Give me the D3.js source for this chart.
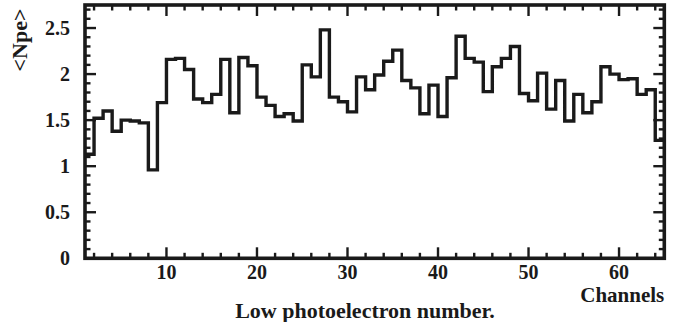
<!DOCTYPE html>
<html>
  <head>
    <meta charset="UTF-8" />
    <style>
      body { margin: 0; background: #fff; }
      text { font-family: "Liberation Serif", "Times New Roman", serif; font-weight: bold; fill: #1a1a1a; }
    </style>
  </head>
  <body>
    <svg id="chart"></svg>
    <script src="https://d3js.org/d3.v7.min.js"></script>
    <script>
      let width = 674,
        height = 322;

      // <Npe> per channel, channels 1..64
      const npe = [
        1.13, 1.52, 1.60, 1.38, 1.50, 1.49, 1.47, 0.96, 1.69, 2.16,
        2.17, 2.05, 1.73, 1.69, 1.78, 2.16, 1.58, 2.18, 2.09, 1.75,
        1.66, 1.54, 1.57, 1.49, 2.10, 1.97, 2.48, 1.75, 1.70, 1.59,
        1.97, 1.83, 1.99, 2.14, 2.26, 1.93, 1.85, 1.57, 1.88, 1.54,
        1.96, 2.41, 2.17, 2.13, 1.81, 2.08, 2.17, 2.30, 1.79, 1.71,
        2.01, 1.62, 1.93, 1.49, 1.78, 1.58, 1.70, 2.08, 2.00, 1.94,
        1.95, 1.78, 1.83, 1.28
      ];
      const xMajor = [10, 20, 30, 40, 50, 60];
      const xMinor = [2, 4, 6, 8, 12, 14, 16, 18, 22, 24, 26, 28, 32, 34, 36, 38,
        42, 44, 46, 48, 52, 54, 56, 58, 62, 64];
      const yMajor = [0, 0.5, 1, 1.5, 2, 2.5];
      const yMinor = [0.1, 0.2, 0.3, 0.4, 0.6, 0.7, 0.8, 0.9, 1.1, 1.2, 1.3, 1.4,
        1.6, 1.7, 1.8, 1.9, 2.1, 2.2, 2.3, 2.4, 2.6, 2.7];

      let margin = { left: 85, right: 9.7, top: 5, bottom: 63.7 };

      let svg = d3.select("#chart").attr("width", width).attr("height", height);

      let x = d3.scaleLinear().domain([1, 65]).range([margin.left, width - margin.right]);
      let y = d3.scaleLinear().domain([0, 2.75]).range([height - margin.bottom, margin.top]);

      let ink = "#1a1a1a";

      // histogram steps
      let pts = [];
      npe.forEach((v, i) => {
        pts.push([x(i + 1), y(v)]);
        pts.push([x(i + 2), y(v)]);
      });
      svg.append("path")
        .attr("d", d3.line()(pts))
        .attr("fill", "none")
        .attr("stroke", ink)
        .attr("stroke-width", 3.4)
        .attr("stroke-linejoin", "miter");

      // ticks, all pointing inward
      let x0 = x.range()[0], x1 = x.range()[1];
      let y0 = y.range()[0], y1 = y.range()[1];
      let ticks = svg.append("g").attr("stroke", ink).attr("stroke-width", 2.4);

      function xTicks(vals, len) {
        vals.forEach((v) => {
          ticks.append("line").attr("x1", x(v)).attr("x2", x(v)).attr("y1", y0).attr("y2", y0 - len);
          ticks.append("line").attr("x1", x(v)).attr("x2", x(v)).attr("y1", y1).attr("y2", y1 + len);
        });
      }
      function yTicks(vals, len) {
        vals.forEach((v) => {
          ticks.append("line").attr("y1", y(v)).attr("y2", y(v)).attr("x1", x0).attr("x2", x0 + len);
          ticks.append("line").attr("y1", y(v)).attr("y2", y(v)).attr("x1", x1).attr("x2", x1 - len);
        });
      }
      xTicks(xMajor, 11);
      xTicks(xMinor, 5.5);
      yTicks(yMajor, 11);
      yTicks(yMinor, 5.5);

      // frame
      svg.append("rect")
        .attr("x", x0).attr("y", y1)
        .attr("width", x1 - x0).attr("height", y0 - y1)
        .attr("fill", "none")
        .attr("stroke", ink)
        .attr("stroke-width", 3.6);

      // tick labels
      svg.append("g").selectAll("text")
        .data(xMajor).join("text")
        .attr("x", (d) => x(d))
        .attr("y", 279)
        .attr("text-anchor", "middle")
        .style("font-size", "20px")
        .text((d) => d);

      svg.append("g").selectAll("text")
        .data(yMajor).join("text")
        .attr("x", 70)
        .attr("y", (d) => y(d) + 6.5)
        .attr("text-anchor", "end")
        .style("font-size", "20px")
        .text((d) => d);

      // axis titles
      svg.append("text")
        .attr("x", x1)
        .attr("y", 302)
        .attr("text-anchor", "end")
        .style("font-size", "21px")
        .text("Channels");

      svg.append("text")
        .attr("transform", "translate(27,40) rotate(-90)")
        .attr("text-anchor", "middle")
        .style("font-size", "22px")
        .text("<Npe>");

      svg.append("text")
        .attr("x", 365)
        .attr("y", 318)
        .attr("text-anchor", "middle")
        .style("font-size", "22px")
        .text("Low photoelectron number.");
    </script>
  </body>
</html>
